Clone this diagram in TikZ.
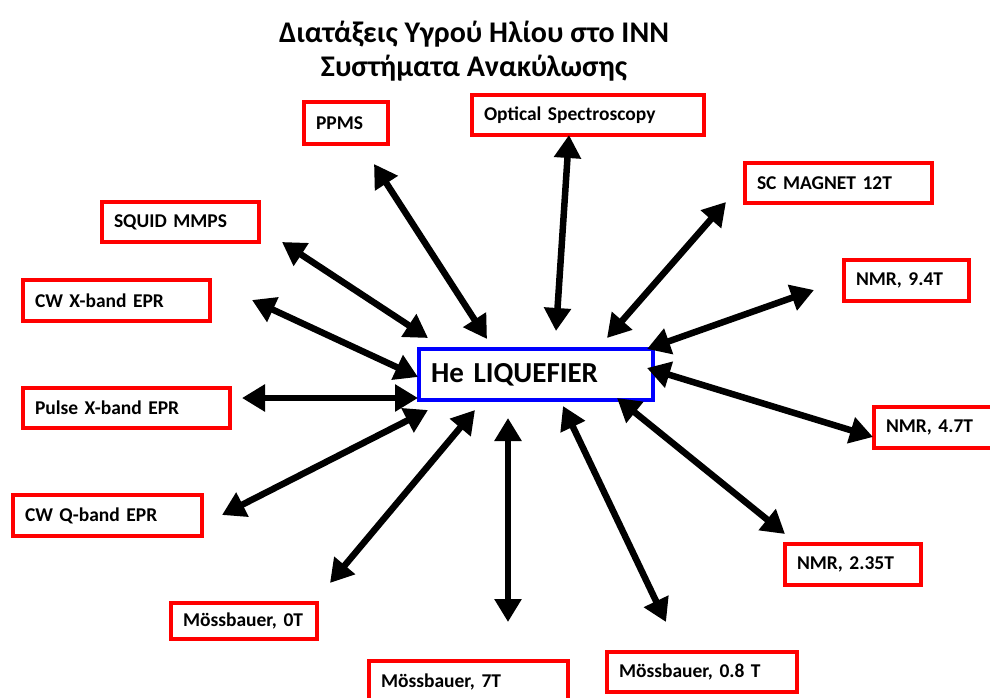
\documentclass[tikz,border=0pt]{standalone}
\usepackage{fontspec}
\setmainfont{Carlito}
\usetikzlibrary{arrows.meta}

\tikzset{
  device/.style={draw=red, line width=4pt, text width=#1, align=left,
    inner xsep=12pt, minimum height=41pt,
    font=\bfseries\fontsize{19.5}{22}\selectfont},
  hub/.style={draw=blue, line width=4pt, text width=#1, align=left,
    inner xsep=12pt, minimum height=51pt,
    font=\bfseries\fontsize{29}{32}\selectfont},
  link/.style={line width=6.5pt,
    {Triangle[length=23pt,width=26pt]}-{Triangle[length=23pt,width=26pt]}}
}

\begin{document}
\begin{tikzpicture}[x=1pt, y=-1pt]
    \useasboundingbox (0,0) rectangle (990,698);

    % Title
    \node[align=center, font=\bfseries\fontsize{30}{34}\selectfont] (title) at (474,51)
        {Διατάξεις Υγρού Ηλίου στο INN\\Συστήματα Ανακύλωσης};

    % Liquefier
    \node[hub=210pt] (he) at (536,374.5) {He LIQUEFIER};

    % Devices
    \node[device=60pt] (ppms) at (346,123) {PPMS};
    \node[device=208pt, minimum height=40pt] (optical) at (588,115) {Optical Spectroscopy};
    \node[device=163pt, minimum height=40pt] (scmag) at (838.5,183) {SC MAGNET 12T};
    \node[device=101pt] (nmr94) at (906.5,280.5) {NMR, 9.4T};
    \node[device=102pt] (nmr47) at (937,427.5) {NMR, 4.7T};
    \node[device=112pt] (nmr235) at (853,564.5) {NMR, 2.35T};
    \node[device=166pt, minimum height=40pt] (moss08) at (702,672) {Mössbauer, 0.8 T};
    \node[device=175pt] (moss7) at (468.5,681.5) {Mössbauer, 7T};
    \node[device=122pt, minimum height=36pt] (moss0) at (244,621) {Mössbauer, 0T};
    \node[device=165pt] (cwq) at (107.5,515.5) {CW Q-band EPR};
    \node[device=183pt, minimum height=40pt] (pulse) at (126.5,408) {Pulse X-band EPR};
    \node[device=163pt] (cwx) at (116.5,300.5) {CW X-band EPR};
    \node[device=133pt, minimum height=40pt] (squid) at (180.5,222) {SQUID MMPS};

    % Arrow ends
    \coordinate (ppms-tip) at (374,164);      \coordinate (ppms-hub) at (487,339);
    \coordinate (optical-tip) at (569,135);   \coordinate (optical-hub) at (556,331);
    \coordinate (scmag-tip) at (726,202);     \coordinate (scmag-hub) at (607,338);
    \coordinate (nmr94-tip) at (814,290);     \coordinate (nmr94-hub) at (647,349);
    \coordinate (nmr47-tip) at (873,437);     \coordinate (nmr47-hub) at (647,368);
    \coordinate (nmr235-tip) at (785,534);    \coordinate (nmr235-hub) at (617,398);
    \coordinate (moss08-tip) at (666,622);    \coordinate (moss08-hub) at (563,406);
    \coordinate (moss7-tip) at (508,622);     \coordinate (moss7-hub) at (508,418);
    \coordinate (moss0-tip) at (330,583);     \coordinate (moss0-hub) at (475,410);
    \coordinate (cwq-tip) at (222,515);       \coordinate (cwq-hub) at (428,410);
    \coordinate (pulse-tip) at (242,398);     \coordinate (pulse-hub) at (418,398);
    \coordinate (cwx-tip) at (252,300);       \coordinate (cwx-hub) at (418,377);
    \coordinate (squid-tip) at (282,242);     \coordinate (squid-hub) at (428,338);

    % Links
    \foreach \d in {ppms,optical,scmag,nmr94,nmr47,nmr235,moss08,moss7,moss0,cwq,pulse,cwx,squid}
        \draw[link] (\d-tip) -- (\d-hub);
\end{tikzpicture}
\end{document}
